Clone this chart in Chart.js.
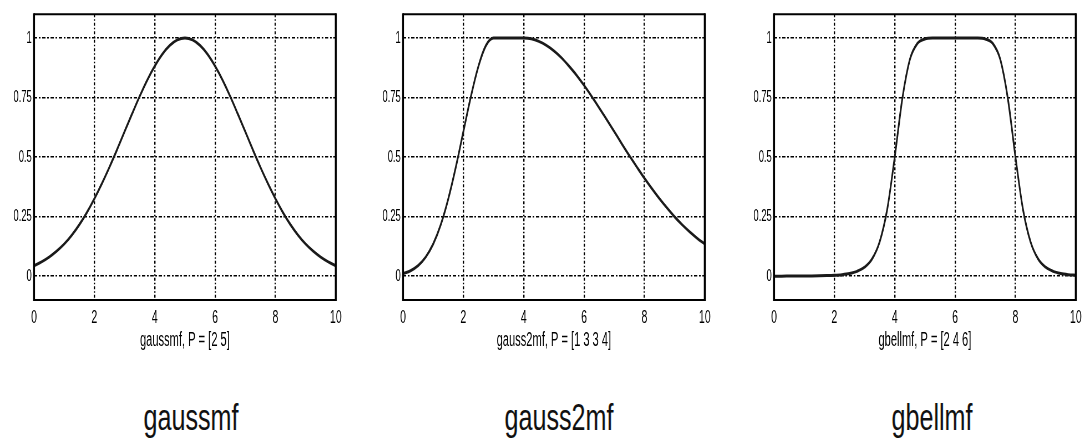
<!DOCTYPE html>
<html>
<head>
<meta charset="utf-8">
<script src="https://cdn.jsdelivr.net/npm/chart.js@4.4.1/dist/chart.umd.min.js"></script>
<style>
  body { margin: 0; background: #fff; width: 1086px; height: 446px; overflow: hidden; position: relative; }
  canvas { position: absolute; top: 0; }
  .name {
    position: absolute; top: 399px; width: 200px; text-align: center;
    font-family: "Liberation Sans", Arial, sans-serif; font-size: 37px; line-height: 1;
    color: #111; transform: scaleX(0.68); transform-origin: center top; white-space: nowrap;
  }
</style>
</head>
<body>
<canvas id="c1" width="622" height="360" style="left:0px;width:345px;height:360px"></canvas>
<canvas id="c2" width="622" height="360" style="left:369px;width:345px;height:360px"></canvas>
<canvas id="c3" width="622" height="360" style="left:740px;width:345px;height:360px"></canvas>
<div class="name" style="left:91px">gaussmf</div>
<div class="name" style="left:459px">gauss2mf</div>
<div class="name" style="left:832px">gbellmf</div>

<script>
// sample positions and membership values
const xValues = [0, 0.25, 0.5, 0.75, 1, 1.25, 1.5, 1.75, 2, 2.25, 2.5, 2.75, 3, 3.25, 3.5, 3.75, 4, 4.25, 4.5, 4.75, 5,
  5.25, 5.5, 5.75, 6, 6.25, 6.5, 6.75, 7, 7.25, 7.5, 7.75, 8, 8.25, 8.5, 8.75, 9, 9.25, 9.5, 9.75, 10];

const gaussY = [0.044, 0.060, 0.080, 0.105, 0.135, 0.172, 0.216, 0.267, 0.325, 0.389, 0.458, 0.531, 0.607, 0.682,
  0.755, 0.823, 0.882, 0.932, 0.969, 0.992, 1, 0.992, 0.969, 0.932, 0.882, 0.823, 0.755, 0.682, 0.607, 0.531,
  0.458, 0.389, 0.325, 0.267, 0.216, 0.172, 0.135, 0.105, 0.080, 0.060, 0.044];

const gauss2Y = [0.011, 0.023, 0.044, 0.080, 0.135, 0.216, 0.325, 0.458, 0.607, 0.755, 0.882, 0.969, 1, 1, 1, 1, 1,
  0.997, 0.986, 0.969, 0.946, 0.917, 0.882, 0.844, 0.801, 0.755, 0.707, 0.657, 0.607, 0.556, 0.506, 0.458, 0.411,
  0.367, 0.325, 0.286, 0.249, 0.216, 0.186, 0.159, 0.135];

const gbellY = [0.0002, 0.0002, 0.0003, 0.0004, 0.0007, 0.001, 0.0015, 0.0024, 0.0039, 0.0065, 0.0112, 0.0202,
  0.0376, 0.0725, 0.144, 0.280, 0.5, 0.744, 0.909, 0.977, 0.996, 1, 1, 1, 1, 1, 1, 1, 0.996, 0.977, 0.909, 0.744,
  0.5, 0.280, 0.144, 0.0725, 0.0376, 0.0202, 0.0112, 0.0065, 0.0039];

const xTicks = [0, 2, 4, 6, 8, 10];
const yTicks = [0, 0.25, 0.5, 0.75, 1];
const captions = ['gaussmf, P = [2 5]', 'gauss2mf, P = [1 3 3 4]', 'gbellmf, P = [2 4 6]'];

// canvases are drawn wide and squeezed by css, so the text comes out condensed like the original
const K = 345 / 622;
const AXIS_W = 34 / K;
const AREA_W = 306 / K;

Chart.defaults.font.family = "'Liberation Sans', Arial, sans-serif";
Chart.defaults.color = '#000';

const framePlugin = {
  id: 'frame',
  afterDraw(chart) {
    const { ctx, chartArea: a } = chart;
    ctx.save();
    ctx.strokeStyle = '#000';
    ctx.lineWidth = 2;
    ctx.beginPath();
    ctx.moveTo(a.left, a.top); ctx.lineTo(a.right, a.top);
    ctx.moveTo(a.left, a.bottom); ctx.lineTo(a.right, a.bottom);
    ctx.stroke();
    ctx.lineWidth = 3.6;
    ctx.beginPath();
    ctx.moveTo(a.left, a.top - 1); ctx.lineTo(a.left, a.bottom + 1);
    ctx.moveTo(a.right, a.top - 1); ctx.lineTo(a.right, a.bottom + 1);
    ctx.stroke();
    ctx.restore();
  }
};

function makeChart(id, values, caption) {
  const points = xValues.map((x, i) => ({ x: x, y: values[i] }));
  new Chart(document.getElementById(id), {
    type: 'line',
    data: {
      datasets: [{
        data: points,
        borderColor: '#1a1a1a',
        borderWidth: 3,
        pointRadius: 0,
        cubicInterpolationMode: 'monotone',
        fill: false
      }]
    },
    options: {
      responsive: false,
      maintainAspectRatio: false,
      animation: false,
      layout: { padding: { top: 13, right: 622 - AXIS_W - AREA_W, left: 0, bottom: 0 } },
      plugins: { legend: { display: false }, tooltip: { enabled: false } },
      scales: {
        x: {
          type: 'linear',
          min: 0,
          max: 10,
          afterBuildTicks: s => { s.ticks = xTicks.map(v => ({ value: v })); },
          afterFit: s => { s.height = 60; },
          grid: { color: '#000', lineWidth: 2.4, drawTicks: false },
          border: { display: false, dash: [3, 2, 1.5, 2] },
          ticks: { padding: 6, font: { size: 19 }, color: '#000' },
          title: { display: true, text: caption, font: { size: 20 }, color: '#000', padding: { top: 0, bottom: 8 } }
        },
        y: {
          type: 'linear',
          min: -0.1,
          max: 1.1,
          afterBuildTicks: s => { s.ticks = yTicks.map(v => ({ value: v })); },
          afterFit: s => { s.width = AXIS_W; },
          grid: { color: '#000', lineWidth: 1.5, drawTicks: false },
          border: { display: false, dash: [6, 3, 3, 3] },
          ticks: { padding: 4, font: { size: 17 }, color: '#000', callback: v => String(v) }
        }
      }
    },
    plugins: [framePlugin]
  });
}

makeChart('c1', gaussY, captions[0]);
makeChart('c2', gauss2Y, captions[1]);
makeChart('c3', gbellY, captions[2]);
</script>
</body>
</html>
